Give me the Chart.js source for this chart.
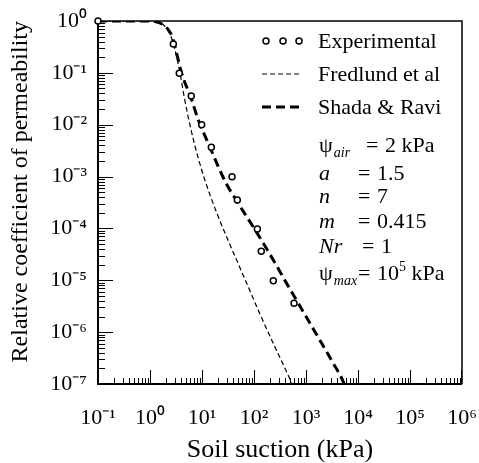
<!DOCTYPE html>
<html><head><meta charset="utf-8">
<script src="https://cdn.jsdelivr.net/npm/chart.js@4/dist/chart.umd.min.js"></script>
<style>html,body{margin:0;padding:0;background:#fff;overflow:hidden}canvas{display:block}</style>
</head><body>
<canvas id="c" width="479" height="463"></canvas>
<script>
// ---- data ----
const expSuction = [0.1, 2.81, 3.65, 6.22, 9.86, 15.1, 37.8, 47.8, 116, 138, 235, 588];
const expPerm    = [1, 0.36, 0.098, 0.0358, 0.0100, 0.00367, 9.95e-4, 3.53e-4, 9.75e-5, 3.62e-5, 9.8e-6, 3.6e-6];

const fredSuction = [0.1, 1.0, 1.5, 2.0, 2.5, 3.03, 3.78, 4.51, 5.38, 7.33, 10.0, 14.25, 22.2, 47.1, 83.8, 130, 253, 471, 538];
const fredPerm    = [1, 1, 0.94, 0.76, 0.52, 0.276, 0.0994, 0.0358, 0.0147, 0.00389, 0.00128, 4.42e-4, 1.39e-4, 2.36e-5, 6.21e-6, 2.24e-6, 5.17e-7, 1.36e-7, 1e-7];

const shadaSuction = [0.1, 1.0, 1.43, 1.86, 2.27, 2.65, 3.03, 4.07, 6.34, 8.49, 13.2, 20.6, 28.9, 49.2, 114, 235, 425, 711, 1193, 2003, 3350, 5210, 5380];
const shadaPerm    = [1, 1, 0.94, 0.82, 0.67, 0.51, 0.315, 0.098, 0.030, 0.0123, 0.00438, 0.00155, 7.5e-4, 3.1e-4, 8.2e-5, 2.46e-5, 8.7e-6, 3.6e-6, 1.48e-6, 6.1e-7, 2.5e-7, 1.1e-7, 1e-7];

const seriesNames = ['Experimental', 'Fredlund et al', 'Shada & Ravi'];

const xTickValues = [0.1, 1, 10, 100, 1000, 1e4, 1e5, 1e6];
const xTickLabels = ['10⁻¹', '10⁰', '10¹', '10²', '10³', '10⁴', '10⁵', '10⁶'];
const yTickValues = [1e-7, 1e-6, 1e-5, 1e-4, 1e-3, 1e-2, 1e-1, 1];
const yTickLabels = ['10⁻⁷', '10⁻⁶', '10⁻⁵', '10⁻⁴', '10⁻³', '10⁻²', '10⁻¹', '10⁰'];

const xTitle = 'Soil suction (kPa)';
const yTitle = 'Relative coefficient of permeability';

const paramSymbols = ['ψ', 'a', 'n', 'm', 'Nr', 'ψ'];
const paramSubs    = ['air', '', '', '', '', 'max'];
const paramValues  = ['2 kPa', '1.5', '7', '0.415', '1', '10^5 kPa'];

// ---- drawing ----
const SERIF = "'Liberation Serif', 'Times New Roman', serif";
const pts = (xs, ys) => xs.map((x, i) => ({x: x, y: ys[i]}));

const frame = {
  id: 'frame',
  beforeDatasetsDraw(chart) {
    const {ctx, chartArea: a, scales: {x, y}} = chart;
    ctx.save();
    ctx.strokeStyle = '#000';
    ctx.lineWidth = 1;
    for (let k = -1; k < 6; k++) {
      for (let m = 1; m <= 9; m++) {
        const px = Math.round(x.getPixelForValue(m * Math.pow(10, k))) + 0.5;
        const len = m === 1 ? 14 : 6;
        ctx.beginPath(); ctx.moveTo(px, a.bottom); ctx.lineTo(px, a.bottom - len); ctx.stroke();
      }
    }
    const pxe = Math.round(x.getPixelForValue(1e6)) - 0.5;
    ctx.beginPath(); ctx.moveTo(pxe, a.bottom); ctx.lineTo(pxe, a.bottom - 14); ctx.stroke();
    for (let k = -7; k < 0; k++) {
      for (let m = 1; m <= 9; m++) {
        const py = Math.round(y.getPixelForValue(m * Math.pow(10, k))) + 0.5;
        const len = m === 1 ? 15 : 7;
        ctx.beginPath(); ctx.moveTo(a.left, py); ctx.lineTo(a.left + len, py); ctx.stroke();
      }
    }
    ctx.lineWidth = 1.5;
    ctx.beginPath();
    ctx.moveTo(a.left, a.top); ctx.lineTo(a.right, a.top); ctx.lineTo(a.right, a.bottom);
    ctx.stroke();
    ctx.lineWidth = 2;
    ctx.beginPath();
    ctx.moveTo(a.left, a.top); ctx.lineTo(a.left, a.bottom); ctx.lineTo(a.right, a.bottom);
    ctx.stroke();
    ctx.restore();
  },
  afterDraw(chart) {
    const {ctx} = chart;
    const ds = chart.data.datasets;
    ctx.save();
    ctx.fillStyle = '#000';
    ctx.font = '22px ' + SERIF;
    ctx.textBaseline = 'alphabetic';
    ctx.textAlign = 'left';
    const lx = 318;
    const rows = [41, 74, 107];
    ctx.lineWidth = ds[0].borderWidth; ctx.strokeStyle = ds[0].borderColor;
    [266, 283, 299].forEach(cx => {
      ctx.beginPath(); ctx.arc(cx, rows[0], ds[0].pointRadius, 0, Math.PI * 2);
      ctx.fillStyle = '#fff'; ctx.fill(); ctx.stroke();
    });
    [1, 2].forEach(i => {
      ctx.lineWidth = ds[i].borderWidth; ctx.strokeStyle = ds[i].borderColor;
      ctx.setLineDash(ds[i].borderDash);
      ctx.beginPath(); ctx.moveTo(262, rows[i]); ctx.lineTo(302, rows[i]); ctx.stroke();
    });
    ctx.setLineDash([]);
    ctx.fillStyle = '#000';
    seriesNames.forEach((n, i) => ctx.fillText(n, lx, rows[i] + 7));

    const base = [152, 180, 203, 228, 253, 280];
    const eqX  = [366, 358, 358, 358, 362, 358];
    for (let i = 0; i < paramSymbols.length; i++) {
      const yb = base[i];
      const sym = paramSymbols[i];
      ctx.font = (sym === 'ψ' ? '' : 'italic ') + '22px ' + SERIF;
      ctx.fillText(sym, 319, yb);
      let w = ctx.measureText(sym).width;
      if (paramSubs[i]) {
        ctx.font = 'italic 14px ' + SERIF;
        ctx.fillText(paramSubs[i], 319 + w + 1, yb + 5);
      }
      ctx.font = '22px ' + SERIF;
      ctx.fillText('=', eqX[i], yb);
      const valX = eqX[i] + 19;
      const v = paramValues[i];
      if (v.includes('^')) {
        const [b, rest] = v.split('^');
        const sup = rest.charAt(0), tail = rest.slice(1);
        ctx.fillText(b, valX, yb);
        let xx = valX + ctx.measureText(b).width;
        ctx.font = '14px ' + SERIF;
        ctx.fillText(sup, xx, yb - 9);
        xx += ctx.measureText(sup).width;
        ctx.font = '22px ' + SERIF;
        ctx.fillText(tail, xx, yb);
      } else {
        ctx.fillText(v, valX, yb);
      }
    }
    ctx.restore();
  }
};

new Chart(document.getElementById('c'), {
  data: {
    datasets: [
      {
        type: 'scatter', label: seriesNames[0], data: pts(expSuction, expPerm),
        showLine: false, pointRadius: 3, pointHoverRadius: 3,
        borderColor: '#000', backgroundColor: '#fff', borderWidth: 1.5,
        pointStyle: 'circle', clip: false, order: 0
      },
      {
        type: 'line', label: seriesNames[1], data: pts(fredSuction, fredPerm),
        borderColor: '#000', borderWidth: 1.2, borderDash: [5, 3],
        pointRadius: 0, fill: false, cubicInterpolationMode: 'monotone', order: 2
      },
      {
        type: 'line', label: seriesNames[2], data: pts(shadaSuction, shadaPerm),
        borderColor: '#000', borderWidth: 3, borderDash: [9, 5],
        pointRadius: 0, fill: false, cubicInterpolationMode: 'monotone', order: 1
      }
    ]
  },
  options: {
    responsive: false, animation: false, devicePixelRatio: 1,
    layout: {padding: {top: 21, right: 17, left: 0, bottom: 0}},
    plugins: {legend: {display: false}, tooltip: {enabled: false}},
    scales: {
      x: {
        type: 'logarithmic', position: 'bottom', min: 0.1, max: 1e6,
        afterBuildTicks: s => { s.ticks = xTickValues.map(v => ({value: v})); },
        afterFit: s => { s.height = 79; s.paddingLeft = 0; s.paddingRight = 0; },
        grid: {display: false, drawTicks: false},
        border: {display: false},
        ticks: {
          autoSkip: false, maxRotation: 0, padding: 21, color: '#000',
          font: {family: SERIF, size: 22},
          callback: (v, i) => xTickLabels[i]
        },
        title: {display: true, text: xTitle, color: '#000', font: {family: SERIF, size: 26}, padding: {top: 0, bottom: -3}}
      },
      y: {
        type: 'logarithmic', position: 'left', min: 1e-7, max: 1,
        afterBuildTicks: s => { s.ticks = yTickValues.map(v => ({value: v})); },
        afterFit: s => { s.width = 98; s.paddingTop = 0; s.paddingBottom = 0; },
        grid: {display: false, drawTicks: false},
        border: {display: false},
        ticks: {
          autoSkip: false, padding: 11, color: '#000', crossAlign: 'near',
          font: {family: SERIF, size: 22},
          callback: (v, i) => yTickLabels[i]
        },
        title: {display: true, text: yTitle, align: 'end', color: '#000', font: {family: SERIF, size: 24}, padding: {top: 6, bottom: 0}}
      }
    }
  },
  plugins: [frame]
});
</script>
</body></html>
